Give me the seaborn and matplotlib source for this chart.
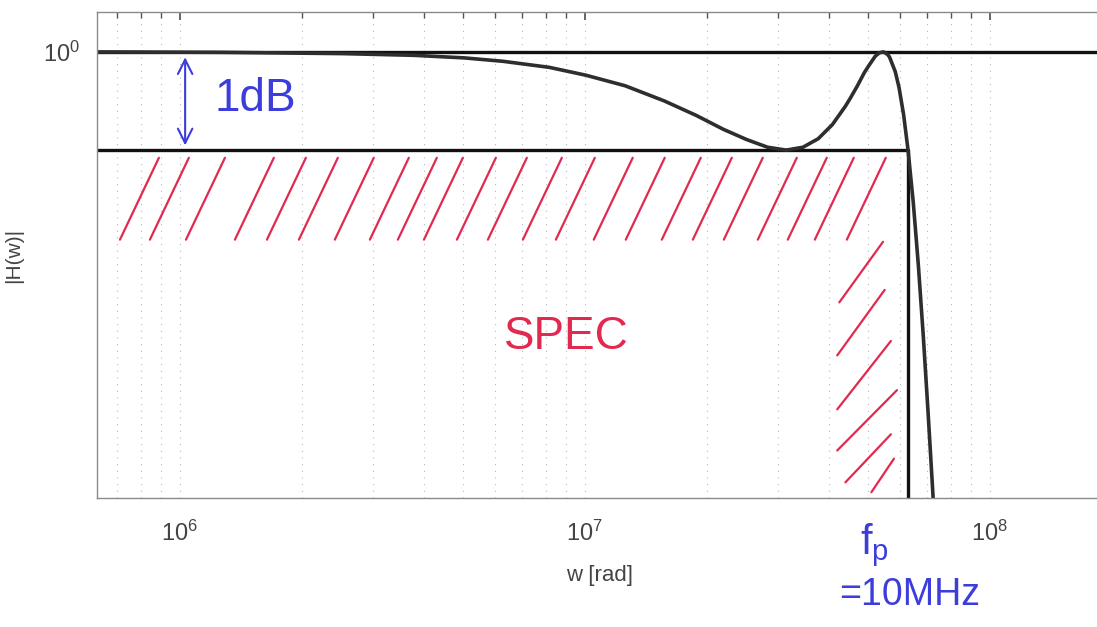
import numpy as np
import pandas as pd
import matplotlib
matplotlib.use("Agg")
import matplotlib.pyplot as plt
import matplotlib.ticker as mticker
import seaborn as sns

# filter magnitude response
w_rad = [6.3e5, 1.26e6, 2.51e6, 3.77e6, 5.03e6, 6.28e6, 8.17e6, 1.005e7,
         1.257e7, 1.571e7, 1.885e7, 2.199e7, 2.513e7, 2.827e7, 3.142e7,
         3.456e7, 3.770e7, 4.084e7, 4.398e7, 4.524e7, 4.712e7, 4.901e7,
         5.027e7, 5.215e7, 5.341e7, 5.466e7, 5.592e7, 5.655e7, 5.843e7,
         5.969e7, 6.126e7, 6.283e7, 6.472e7, 6.660e7, 6.849e7, 7.037e7,
         7.226e7, 7.414e7]
h_mag = [1.000, 0.9995, 0.998, 0.996, 0.993, 0.989, 0.982, 0.973,
         0.961, 0.944, 0.928, 0.913, 0.902, 0.894, 0.891,
         0.894, 0.903, 0.918, 0.938, 0.947, 0.961, 0.976,
         0.984, 0.995, 0.999, 1.000, 0.997, 0.994, 0.977,
         0.959, 0.929, 0.891, 0.838, 0.779, 0.717, 0.656,
         0.598, 0.544]

# spec: passband edge and 1 dB ripple band
w_edge = 6.283e7
h_top = 1.0
h_ripple = 0.891

# hand drawn hatch strokes of the forbidden region (start / end points)
band_w = [7.11e5, 8.43e5, 1.035e6, 1.367e6, 1.64e6, 1.967e6, 2.413e6,
          2.945e6, 3.453e6, 4.005e6, 4.831e6, 5.762e6, 7.03e6, 8.48e6,
          1.052e7, 1.262e7, 1.549e7, 1.848e7, 2.204e7, 2.674e7, 3.171e7,
          3.698e7, 4.436e7]
strip_w0 = [4.25e7, 4.2e7, 4.2e7, 4.2e7, 4.4e7, 5.1e7]
strip_h0 = [0.745, 0.700, 0.657, 0.626, 0.603, 0.596]
strip_w1 = [5.45e7, 5.5e7, 5.7e7, 5.9e7, 5.7e7, 5.8e7]
strip_h1 = [0.800, 0.756, 0.712, 0.672, 0.638, 0.620]

df = pd.DataFrame({"w": w_rad, "H": h_mag})

sns.set_theme(style="white")
plt.rcParams["font.family"] = ["Liberation Sans", "DejaVu Sans"]
plt.rcParams["mathtext.default"] = "regular"

fig = plt.figure(figsize=(10.97, 6.27), dpi=100)
ax = fig.add_axes([97 / 1097, 129 / 627, 1000 / 1097, 486 / 627])
ax.set_xscale("log")
ax.set_yscale("log")

red = "#e2294f"
blue = "#3d3ddb"

# hatch strokes
for w0 in band_w:
    ax.plot([w0, w0 * 1.248], [0.802, 0.883], color=red, lw=1.6,
            solid_capstyle="round")
for a, b, c, d in zip(strip_w0, strip_h0, strip_w1, strip_h1):
    ax.plot([a, c], [b, d], color=red, lw=1.6, solid_capstyle="round")

# spec lines
ax.axhline(h_top, color="#111111", lw=2.4)
ax.plot([6.0e5, w_edge], [h_ripple, h_ripple], color="#111111", lw=2.4)
ax.plot([w_edge, w_edge], [h_ripple, 0.5], color="#111111", lw=2.4)

sns.lineplot(data=df, x="w", y="H", ax=ax, color="#2e2e2e", lw=2.6)

ax.set_xlim(6.24e5, 1.84e8)
ax.set_ylim(0.592, 1.048)

ax.xaxis.set_major_locator(mticker.LogLocator(base=10))
ax.xaxis.set_minor_locator(mticker.LogLocator(base=10, subs=np.arange(2, 10)))
ax.xaxis.set_minor_formatter(mticker.NullFormatter())
ax.yaxis.set_major_locator(mticker.FixedLocator([1.0]))
ax.yaxis.set_major_formatter(mticker.FixedFormatter(["$10^{0}$"]))
ax.yaxis.set_minor_locator(mticker.NullLocator())

ax.grid(True, which="both", axis="x", color="#b8b8b8", lw=0.8,
        linestyle=(0, (1, 5)))
ax.tick_params(axis="both", which="both", direction="in", top=True,
               colors="#555555", labelcolor="#444444")
ax.tick_params(axis="x", which="major", length=6, labelsize=17, pad=16)
ax.tick_params(axis="x", which="minor", length=4)
ax.tick_params(axis="y", which="major", length=6, labelsize=17, pad=12)

for side in ["left", "bottom", "top"]:
    ax.spines[side].set_color("#8a8a8a")
    ax.spines[side].set_linewidth(1.0)
ax.spines["right"].set_visible(False)

ax.set_xlabel("w [rad]", fontsize=16, color="#444444")
ax.xaxis.set_label_coords(0.503, -0.138)
ax.set_ylabel("|H(w)|", fontsize=15, color="#444444")
ax.yaxis.set_label_coords(-0.074, 0.5)

# handwritten notes
ax.annotate("", xy=(1.03e6, 0.893), xytext=(1.03e6, 0.997),
            arrowprops=dict(arrowstyle="<->", color=blue, lw=1.5,
                            mutation_scale=26))
ax.text(1.22e6, 0.946, "1dB", color=blue, fontsize=33, va="center",
        ha="left")
ax.text(9.0e6, 0.7155, "SPEC", color=red, fontsize=33, va="center",
        ha="center")
ax.text(5.2e7, 0.56, "$f_p$", color=blue, fontsize=30, va="center",
        ha="center", clip_on=False)
ax.text(6.34e7, 0.528, "=10MHz", color=blue, fontsize=27, va="center",
        ha="center", clip_on=False)

fig.savefig("out.png", dpi=100)
